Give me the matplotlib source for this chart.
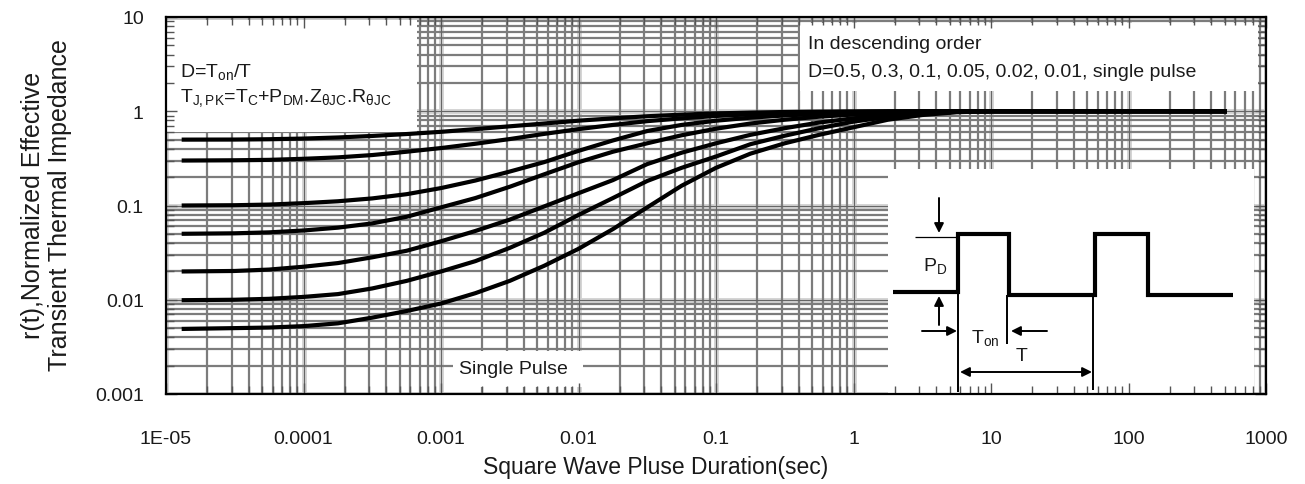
import numpy as np
import matplotlib
matplotlib.use("Agg")
import matplotlib.pyplot as plt
from matplotlib.patches import Rectangle

plt.rcParams['font.family'] = ['Liberation Sans', 'DejaVu Sans']
plt.rcParams['mathtext.fontset'] = 'custom'
plt.rcParams['mathtext.rm'] = 'Liberation Sans'
plt.rcParams['mathtext.it'] = 'Liberation Sans'
plt.rcParams['mathtext.bf'] = 'Liberation Sans:bold'

# ---------------- data ----------------
x_pts = [1.3e-5, 3.16e-5, 5.62e-5, 1e-4, 1.78e-4, 3.16e-4, 5.62e-4, 1e-3, 1.78e-3, 3.16e-3,
         5.62e-3, 1e-2, 1.78e-2, 3.16e-2, 5.62e-2, 0.1, 0.178, 0.316, 0.562, 1.0,
         1.78, 3.16, 5.62, 10, 520]
r_d050 = [0.5, 0.501, 0.505, 0.513, 0.527, 0.547, 0.573, 0.605, 0.646, 0.692,
          0.741, 0.794, 0.841, 0.885, 0.920, 0.948, 0.968, 0.982, 0.991, 0.995,
          1.0, 1.0, 1.0, 1.0, 1.0]
r_d030 = [0.300, 0.302, 0.305, 0.313, 0.324, 0.343, 0.372, 0.407, 0.452, 0.507,
          0.575, 0.646, 0.716, 0.785, 0.841, 0.891, 0.929, 0.955, 0.975, 0.989,
          0.995, 1.0, 1.0, 1.0, 1.0]
r_d010 = [0.1, 0.1007, 0.1023, 0.1059, 0.1109, 0.1189, 0.1318, 0.1531, 0.1841, 0.2291,
          0.2884, 0.380, 0.490, 0.617, 0.716, 0.794, 0.855, 0.902, 0.938, 0.966,
          0.982, 0.993, 0.998, 1.0, 1.0]
r_d005 = [0.0501, 0.0507, 0.0519, 0.0543, 0.0582, 0.0646, 0.0759, 0.0955, 0.120, 0.158,
          0.214, 0.288, 0.372, 0.457, 0.556, 0.653, 0.741, 0.813, 0.875, 0.923,
          0.959, 0.982, 0.995, 1.0, 1.0]
r_d002 = [0.01995, 0.0202, 0.0209, 0.0224, 0.0245, 0.0282, 0.0331, 0.0417, 0.0537, 0.0708,
          0.0977, 0.135, 0.186, 0.275, 0.363, 0.457, 0.562, 0.661, 0.759, 0.841,
          0.912, 0.959, 0.989, 1.0, 1.0]
r_d001 = [0.00989, 0.0100, 0.01023, 0.01072, 0.01148, 0.01318, 0.01585, 0.01995, 0.0257, 0.0355,
          0.0513, 0.0794, 0.120, 0.182, 0.251, 0.331, 0.447, 0.550, 0.661, 0.776,
          0.871, 0.944, 0.984, 1.0, 1.0]
r_single = [0.0049, 0.0050, 0.00507, 0.00525, 0.00562, 0.00646, 0.00759, 0.00912, 0.01175, 0.01585,
            0.0229, 0.0347, 0.0562, 0.0955, 0.162, 0.251, 0.355, 0.457, 0.562, 0.676,
            0.813, 0.912, 0.977, 1.0, 1.0]
series = [r_d050, r_d030, r_d010, r_d005, r_d002, r_d001, r_single]

x_ticks = [1e-5, 1e-4, 1e-3, 1e-2, 1e-1, 1, 10, 100, 1000]
x_ticklabels = ['1E-05', '0.0001', '0.001', '0.01', '0.1', '1', '10', '100', '1000']
y_ticks = [1e-3, 1e-2, 1e-1, 1, 10]
y_ticklabels = ['0.001', '0.01', '0.1', '1', '10']

# ---------------- figure ----------------
W, H = 1305, 485
fig = plt.figure(figsize=(W / 100, H / 100), dpi=100)
L, R, T, B = 166, 1266, 18, 395
ax = fig.add_axes([L / W, 1 - B / H, (R - L) / W, (B - T) / H])
ax.set_xscale('log')
ax.set_yscale('log')
ax.set_xlim(1e-5, 1e3)
ax.set_ylim(1e-3, 10)


def fx(px):
    return (px - L) / (R - L)


def fy(py):
    return (B - py) / (B - T)


# grid lines (manual, drawn below boxes)
gcol = '#7c7c7c'
for n in range(-5, 3):
    for k in range(2, 10):
        ax.axvline(k * 10.0 ** n, color=gcol, lw=1.6, zorder=0.5)
for n in range(-5, 4):
    ax.axvline(10.0 ** n, color='#d2d2d2', lw=3.5, zorder=0.4)
    ax.axvline(10.0 ** n, color='#666666', lw=0.8, zorder=0.6)
for n in range(-3, 1):
    for k in range(2, 10):
        ax.axhline(k * 10.0 ** n, color=gcol, lw=1.6, zorder=0.5)
for n in range(-3, 2):
    ax.axhline(10.0 ** n, color='#d2d2d2', lw=3.5, zorder=0.4)
    ax.axhline(10.0 ** n, color='#666666', lw=0.8, zorder=0.6)


# white boxes
def wbox(x0, y0, x1, y1):
    ax.add_patch(Rectangle((fx(x0), fy(y1)), fx(x1) - fx(x0), fy(y0) - fy(y1),
                           transform=ax.transAxes, facecolor='white',
                           edgecolor='none', zorder=1))


wbox(166, 21, 417, 133)
wbox(800, 24, 1258, 92)
wbox(888, 170, 1254, 395)
wbox(453, 352, 583, 388)

# curves
for ys in series:
    ax.plot(x_pts, ys, color='black', lw=3.0, solid_capstyle='butt',
            solid_joinstyle='round', zorder=3)

# ticks
ax.set_xticks(x_ticks)
ax.set_xticklabels(x_ticklabels)
ax.set_yticks(y_ticks)
ax.set_yticklabels(y_ticklabels)
ax.tick_params(which='both', direction='in', top=True, right=True,
               color='#555555', width=1.0)
ax.tick_params(which='major', length=8)
ax.tick_params(which='minor', length=6)
ax.tick_params(axis='x', which='major', pad=26, labelsize=14, labelcolor='#1a1a1a')
ax.tick_params(axis='y', which='major', pad=16, labelsize=14, labelcolor='#1a1a1a')
for s in ax.spines.values():
    s.set_linewidth(1.6)
    s.set_color('black')
    s.set_zorder(4)

ax.set_xlabel('Square Wave Pluse Duration(sec)', fontsize=16.5, color='#1a1a1a')
ax.xaxis.set_label_coords(fx(656), fy(456))
fig.text(33 / W, 1 - 205 / H, 'r(t),Normalized Effective', rotation=90,
         ha='center', va='center', fontsize=18, color='#1a1a1a')
fig.text(60 / W, 1 - 205 / H, 'Transient Thermal Impedance', rotation=90,
         ha='center', va='center', fontsize=18, color='#1a1a1a')

tc = '#1a1a1a'
# annotation texts
ax.text(fx(180), fy(77), r'D=T$_{\mathrm{on}}$/T', transform=ax.transAxes,
        fontsize=14, color=tc, va='baseline', ha='left', zorder=5)
ax.text(fx(180), fy(102), r'T$_{\mathrm{J,PK}}$=T$_{\mathrm{C}}$+P$_{\mathrm{DM}}$.Z$_{\mathrm{θJC}}$.R$_{\mathrm{θJC}}$',
        transform=ax.transAxes, fontsize=14, color=tc, va='baseline', ha='left', zorder=5)
ax.text(fx(808), fy(49), 'In descending order', transform=ax.transAxes,
        fontsize=14, color=tc, va='baseline', ha='left', zorder=5)
ax.text(fx(808), fy(77), 'D=0.5, 0.3, 0.1, 0.05, 0.02, 0.01, single pulse',
        transform=ax.transAxes, fontsize=14, color=tc, va='baseline', ha='left', zorder=5)
ax.text(fx(513), fy(370), 'Single Pulse', transform=ax.transAxes,
        fontsize=14, color=tc, va='center', ha='center', zorder=5)


# inset waveform
def pline(xs, ys, lw):
    ax.plot([fx(v) for v in xs], [fy(v) for v in ys], transform=ax.transAxes,
            color='black', lw=lw, solid_capstyle='butt', solid_joinstyle='miter', zorder=5)


pline([893, 958, 958, 1009, 1009, 1095, 1095, 1148, 1148, 1233],
      [293, 293, 235, 235, 296, 296, 235, 235, 296, 296], 3.0)
pline([915, 958], [238, 238], 0.9)
pline([958, 958], [293, 393], 1.4)
pline([1007, 1007], [296, 345], 1.4)
pline([1093, 1093], [296, 391], 1.4)


def parrow(x0, y0, x1, y1, style='-|>'):
    ax.annotate('', xy=(fx(x1), fy(y1)), xytext=(fx(x0), fy(y0)),
                xycoords='axes fraction', textcoords='axes fraction',
                arrowprops=dict(arrowstyle=style, color='black', lw=1.4,
                                shrinkA=0, shrinkB=0, mutation_scale=14),
                zorder=5)


parrow(939, 199, 939, 234)
parrow(939, 326, 939, 297)
parrow(922, 332, 957, 332)
parrow(1047, 332, 1011, 332)
parrow(960, 373, 1092, 373, style='<|-|>')

ax.text(fx(935), fy(266), r'P$_{\mathrm{D}}$', transform=ax.transAxes, fontsize=14,
        color=tc, ha='center', va='center', zorder=5)
ax.text(fx(985), fy(338), r'T$_{\mathrm{on}}$', transform=ax.transAxes, fontsize=14,
        color=tc, ha='center', va='center', zorder=5)
ax.text(fx(1022), fy(357), 'T', transform=ax.transAxes, fontsize=14,
        color=tc, ha='center', va='center', zorder=5)

fig.savefig('out.png', dpi=100)
